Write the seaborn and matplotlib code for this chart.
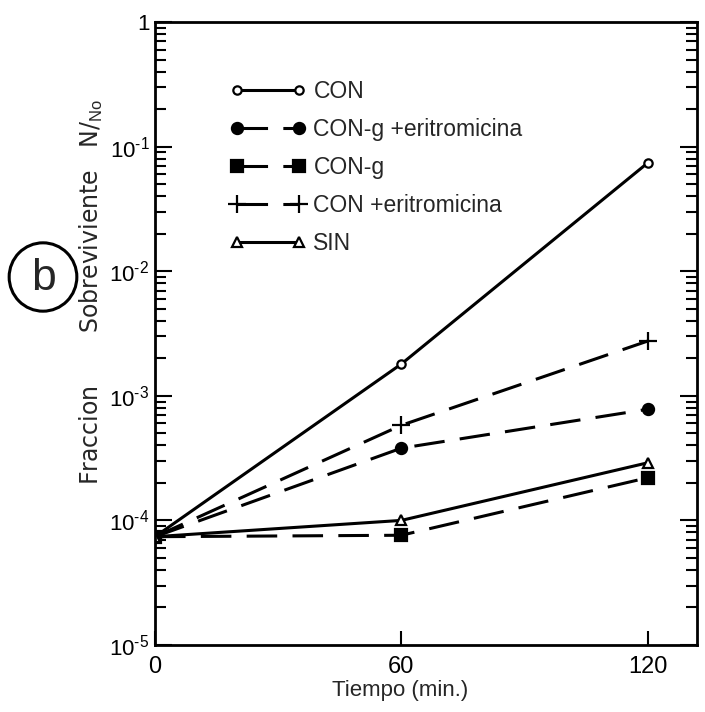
import numpy as np
import pandas as pd
import matplotlib
matplotlib.use("Agg")
import matplotlib.pyplot as plt
import seaborn as sns
from matplotlib.ticker import FixedLocator, FixedFormatter, LogLocator, NullFormatter
from matplotlib.patches import Circle

# ---- data ----
tiempo = [0, 60, 120]
con = [7.4e-5, 1.8e-3, 7.4e-2]
con_g_eri = [7.4e-5, 3.8e-4, 7.8e-4]
con_g = [7.4e-5, 7.6e-5, 2.2e-4]
con_eri = [7.4e-5, 5.8e-4, 2.75e-3]
sin = [7.4e-5, 1.0e-4, 2.9e-4]
labels = ["CON", "CON-g +eritromicina", "CON-g", "CON +eritromicina", "SIN"]
xticks = [0, 60, 120]
yticks = [1e-5, 1e-4, 1e-3, 1e-2, 1e-1, 1]
ytick_labels = [r"$10^{\text{-5}}$", r"$10^{\text{-4}}$", r"$10^{\text{-3}}$",
                r"$10^{\text{-2}}$", r"$10^{\text{-1}}$", "1"]

sns.set_style("ticks")
plt.rcParams["font.family"] = ["Liberation Sans", "DejaVu Sans"]
plt.rcParams["mathtext.fontset"] = "custom"
plt.rcParams["mathtext.rm"] = "Liberation Sans"

fig = plt.figure(figsize=(7.05, 7.12), dpi=100)
ax = fig.add_axes([155/705, 1-645/712, (697-155)/705, (645-22)/712])

dash = (0, (10, 5))
styles = [
    dict(y=con, marker="o", mfc="white", ms=6, ls="-"),
    dict(y=con_g_eri, marker="o", mfc="black", ms=8, ls=dash),
    dict(y=con_g, marker="s", mfc="black", ms=8, ls=dash),
    dict(y=con_eri, marker="+", mfc="black", ms=13, ls=dash),
    dict(y=sin, marker="^", mfc="white", ms=7, ls="-"),
]
for lab, st in zip(labels, styles):
    sns.lineplot(x=tiempo, y=st["y"], ax=ax, color="black", lw=2.2,
                 linestyle=st["ls"], marker=st["marker"], markersize=st["ms"],
                 markerfacecolor=st["mfc"], markeredgecolor="black",
                 markeredgewidth=1.6, label=lab)

ax.set_yscale("log")
ax.set_ylim(1e-5, 1)
ax.set_xlim(0, 132)
ax.yaxis.set_major_locator(FixedLocator(yticks))
ax.yaxis.set_major_formatter(FixedFormatter(ytick_labels))
ax.yaxis.set_minor_locator(LogLocator(base=10, subs=np.arange(2, 10)))
ax.yaxis.set_minor_formatter(NullFormatter())
ax.set_xticks(xticks)
ax.tick_params(axis="both", which="both", direction="in", width=1.5,
               colors="black", right=True)
ax.tick_params(axis="y", which="major", length=12, labelsize=16, pad=4)
ax.tick_params(axis="y", which="minor", length=8)
ax.tick_params(axis="x", which="major", length=10, labelsize=17, pad=8)
for s in ax.spines.values():
    s.set_linewidth(2)
    s.set_color("black")

ax.set_xlabel("Tiempo (min.)", fontsize=16)
ax.xaxis.set_label_coords((400-155)/542, (645-680)/623)
ax.set_ylabel("Fraccion       Sobreviviente   N/$_{\\mathrm{No}}$",
              fontsize=17, family="DejaVu Sans")
ax.yaxis.set_label_coords((105-155)/542, (645-292)/623)

leg = ax.legend(loc="upper left", bbox_to_anchor=(0.1, 0.94), frameon=False,
                numpoints=2, handlelength=3.3, fontsize=16.5, labelspacing=0.65,
                handletextpad=0.35)

circ = Circle((43/705, 1-277/712), 0.048, transform=fig.transFigure,
              fill=False, lw=2.2, color="black")
fig.patches.append(circ)
fig.text(43/705, 1-279/712, "b", fontsize=32, ha="center", va="center")

fig.savefig("out.png", dpi=100)
